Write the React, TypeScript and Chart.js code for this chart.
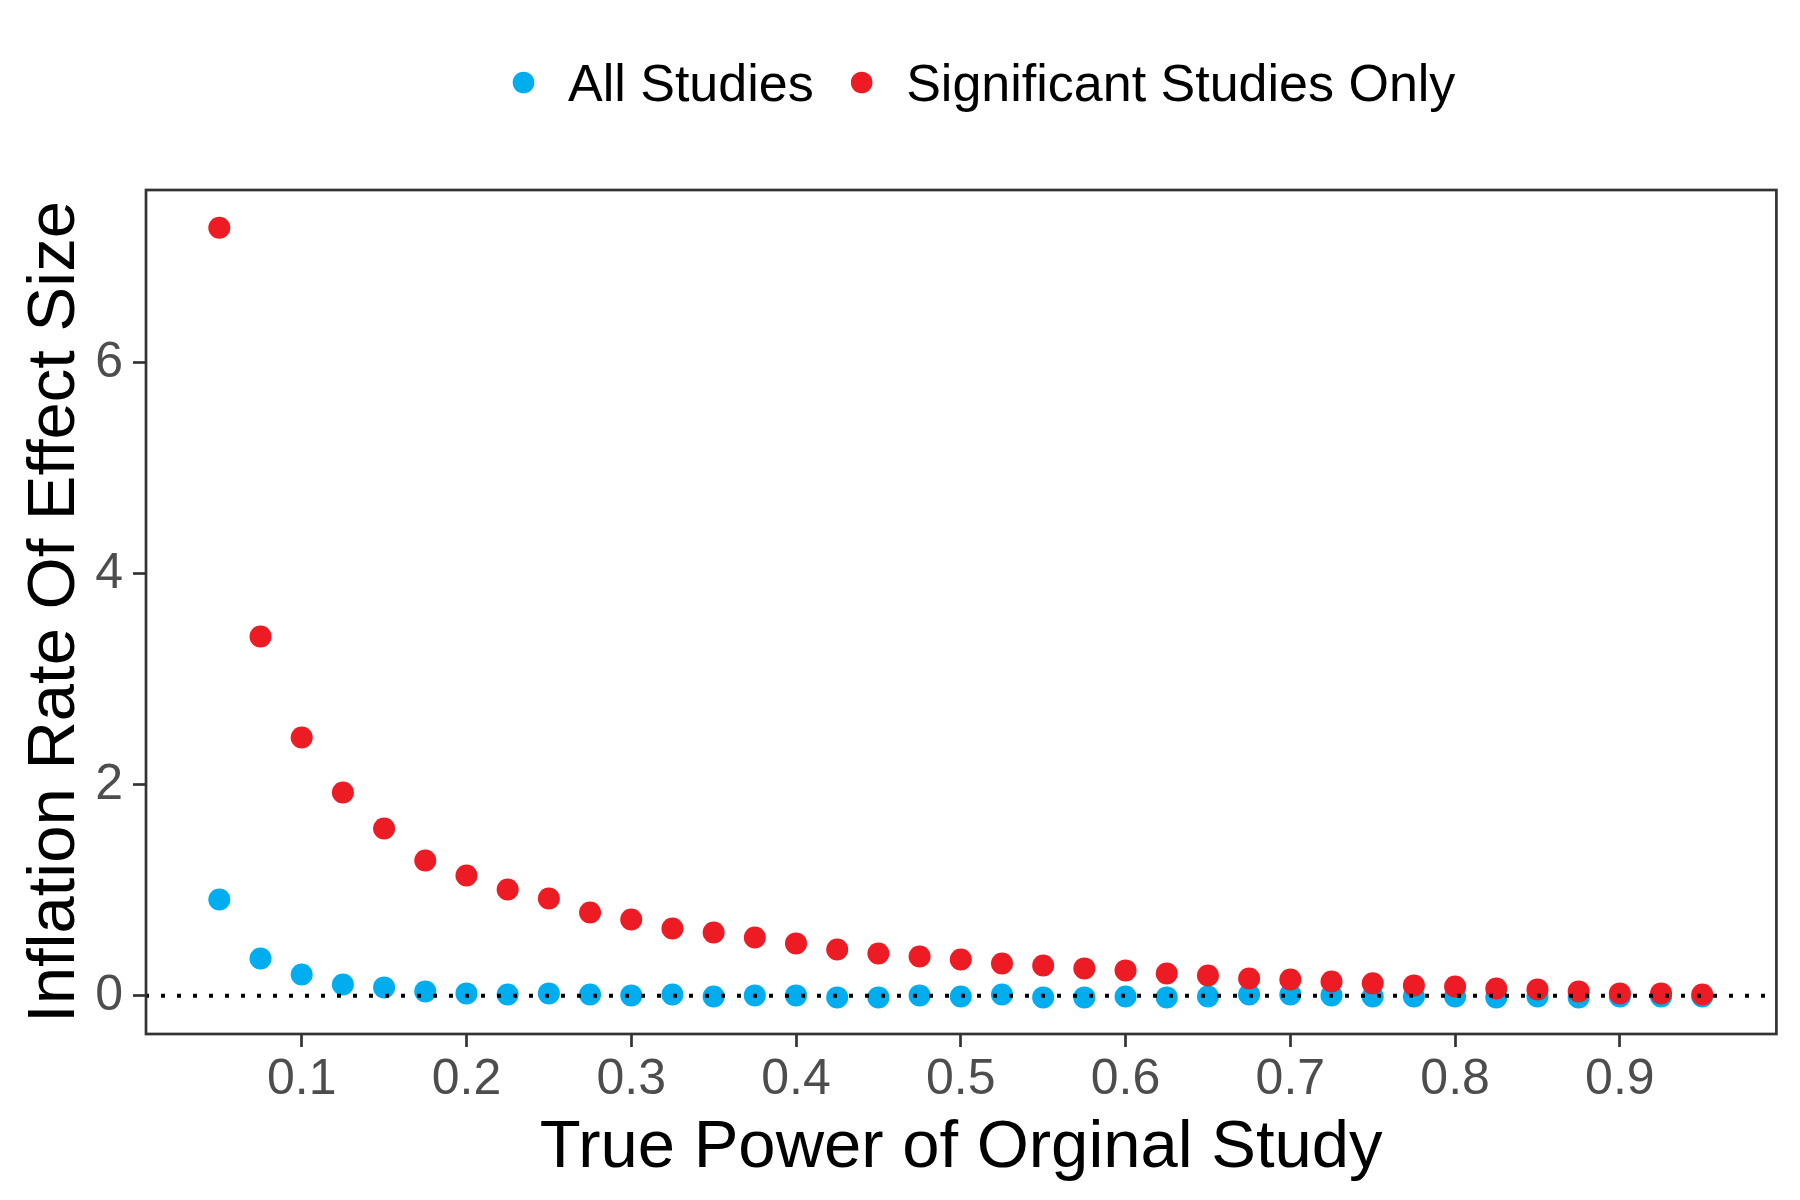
import React, { useEffect, useRef } from "react";
import { Chart, registerables } from "chart.js";

Chart.register(...registerables);

const FAMILY = '"Liberation Sans", Arial, "DejaVu Sans", sans-serif';

// True power of the original study (x values)
const powerLevels = [
  0.05, 0.075, 0.1, 0.125, 0.15, 0.175, 0.2, 0.225, 0.25, 0.275,
  0.3, 0.325, 0.35, 0.375, 0.4, 0.425, 0.45, 0.475, 0.5, 0.525,
  0.55, 0.575, 0.6, 0.625, 0.65, 0.675, 0.7, 0.725, 0.75, 0.775,
  0.8, 0.825, 0.85, 0.875, 0.9, 0.925, 0.95,
];

// Inflation rate, all studies
const allStudies = [
  0.914, 0.354, 0.203, 0.108, 0.080, 0.042, 0.023, 0.013, 0.023, 0.013,
  0.004, 0.013, -0.006, 0.004, 0.004, -0.015, -0.015, 0.004, -0.006, 0.013,
  -0.015, -0.015, -0.006, -0.015, -0.006, 0.013, 0.013, 0.004, -0.006, -0.006,
  -0.006, -0.015, -0.006, -0.015, -0.006, -0.006, -0.006,
];

// Inflation rate, significant studies only
const significantOnly = [
  7.283, 3.407, 2.449, 1.928, 1.587, 1.283, 1.141, 1.008, 0.923, 0.790,
  0.724, 0.639, 0.601, 0.553, 0.497, 0.440, 0.402, 0.373, 0.345, 0.307,
  0.288, 0.260, 0.241, 0.212, 0.193, 0.165, 0.155, 0.136, 0.118, 0.099,
  0.089, 0.070, 0.061, 0.042, 0.023, 0.023, 0.013,
];

const seriesLabels = ["All Studies", "Significant Studies Only"];
const seriesColors = ["#00AEEF", "#ED1C24"];

const xTicks = [0.1, 0.2, 0.3, 0.4, 0.5, 0.6, 0.7, 0.8, 0.9];
const yTicks = [0, 2, 4, 6];
const referenceLineValue = 0;

const X_MIN = 0.0055;
const X_MAX = 0.995;
const Y_MIN = -0.362;
const Y_MAX = 7.64;

const legendPlugin = {
  id: "refLegend",
  afterDraw(chart: any) {
    const ctx = chart.ctx;
    ctx.save();
    ctx.font = `52px ${FAMILY}`;
    ctx.textBaseline = "alphabetic";
    ctx.textAlign = "left";
    const items = chart.data.datasets
      .map((ds: any) => ds)
      .sort((a: any, b: any) => a.legendIndex - b.legendIndex);
    let x = 523.5;
    items.forEach((ds: any) => {
      ctx.fillStyle = ds.backgroundColor;
      ctx.beginPath();
      ctx.arc(x, 82.5, 10.8, 0, Math.PI * 2);
      ctx.fill();
      ctx.fillStyle = "#000000";
      const tx = x + 44.5;
      ctx.fillText(ds.label, tx, 101);
      x = tx + ctx.measureText(ds.label).width + 48;
    });
    ctx.restore();
  },
};

const hlinePlugin = {
  id: "zeroLine",
  afterDatasetsDraw(chart: any) {
    const { ctx, chartArea } = chart;
    const y = chart.scales.y.getPixelForValue(referenceLineValue);
    ctx.save();
    ctx.beginPath();
    ctx.setLineDash([4, 12]);
    ctx.lineDashOffset = 1;
    ctx.lineWidth = 4;
    ctx.strokeStyle = "#000000";
    ctx.moveTo(chartArea.left, y);
    ctx.lineTo(chartArea.right, y);
    ctx.stroke();
    ctx.restore();
  },
};

const panelPlugin = {
  id: "panelBorder",
  beforeDraw(chart: any) {
    const ctx = chart.ctx;
    ctx.save();
    ctx.fillStyle = "#ffffff";
    ctx.fillRect(0, 0, chart.width, chart.height);
    ctx.restore();
  },
  afterDraw(chart: any) {
    const { ctx, chartArea } = chart;
    ctx.save();
    ctx.lineWidth = 2.7;
    ctx.strokeStyle = "#333333";
    ctx.strokeRect(
      chartArea.left,
      chartArea.top,
      chartArea.right - chartArea.left,
      chartArea.bottom - chartArea.top
    );
    ctx.restore();
  },
};

export default function App() {
  const canvasRef = useRef<HTMLCanvasElement | null>(null);

  useEffect(() => {
    if (!canvasRef.current) return;
    const chart = new Chart(canvasRef.current, {
      type: "scatter",
      data: {
        datasets: [
          {
            label: seriesLabels[0],
            data: powerLevels.map((x, i) => ({ x, y: allStudies[i] })),
            backgroundColor: seriesColors[0],
            borderColor: seriesColors[0],
            pointRadius: 11,
            pointBorderWidth: 0,
            order: 2,
            legendIndex: 0,
          } as any,
          {
            label: seriesLabels[1],
            data: powerLevels.map((x, i) => ({ x, y: significantOnly[i] })),
            backgroundColor: seriesColors[1],
            borderColor: seriesColors[1],
            pointRadius: 11,
            pointBorderWidth: 0,
            order: 1,
            legendIndex: 1,
          } as any,
        ],
      },
      options: {
        responsive: false,
        animation: false,
        layout: { padding: { top: 190, left: 0, right: 23.6, bottom: 0 } },
        plugins: {
          legend: { display: false },
          tooltip: { enabled: false },
        },
        scales: {
          x: {
            type: "linear",
            min: X_MIN,
            max: X_MAX,
            afterBuildTicks: (s: any) => {
              s.ticks = xTicks.map((v) => ({ value: v }));
            },
            afterFit: (s: any) => {
              s.height = 166;
            },
            grid: {
              display: true,
              drawOnChartArea: false,
              drawTicks: true,
              tickLength: 13,
              tickWidth: 2.7,
              tickColor: "#333333",
              color: "#333333",
            },
            border: { display: false },
            ticks: {
              color: "#4D4D4D",
              font: { size: 50, family: FAMILY },
              padding: 3,
              maxRotation: 0,
              autoSkip: false,
              callback: (v: any) => Number(v).toFixed(1),
            },
            title: {
              display: true,
              text: "True Power of Orginal Study",
              color: "#000000",
              font: { size: 67, family: FAMILY },
              padding: { top: 0, bottom: 11.5 },
            },
          },
          y: {
            type: "linear",
            min: Y_MIN,
            max: Y_MAX,
            afterBuildTicks: (s: any) => {
              s.ticks = yTicks.map((v) => ({ value: v }));
            },
            afterFit: (s: any) => {
              s.width = 146;
            },
            grid: {
              display: true,
              drawOnChartArea: false,
              drawTicks: true,
              tickLength: 13,
              tickWidth: 2.7,
              tickColor: "#333333",
              color: "#333333",
            },
            border: { display: false },
            ticks: {
              color: "#4D4D4D",
              font: { size: 50, family: FAMILY },
              padding: 10,
              autoSkip: false,
              callback: (v: any) => String(v),
            },
            title: {
              display: true,
              text: "Inflation Rate Of Effect Size",
              color: "#000000",
              font: { size: 67, family: FAMILY },
              padding: { top: 15, bottom: 0 },
            },
          },
        },
      },
      plugins: [panelPlugin, hlinePlugin, legendPlugin],
    });
    return () => chart.destroy();
  }, []);

  return (
    <div
      style={{
        position: "fixed",
        left: 0,
        top: 0,
        width: 1800,
        height: 1200,
        background: "#ffffff",
      }}
    >
      <canvas
        ref={canvasRef}
        width={1800}
        height={1200}
        style={{ width: 1800, height: 1200, display: "block" }}
      />
    </div>
  );
}
